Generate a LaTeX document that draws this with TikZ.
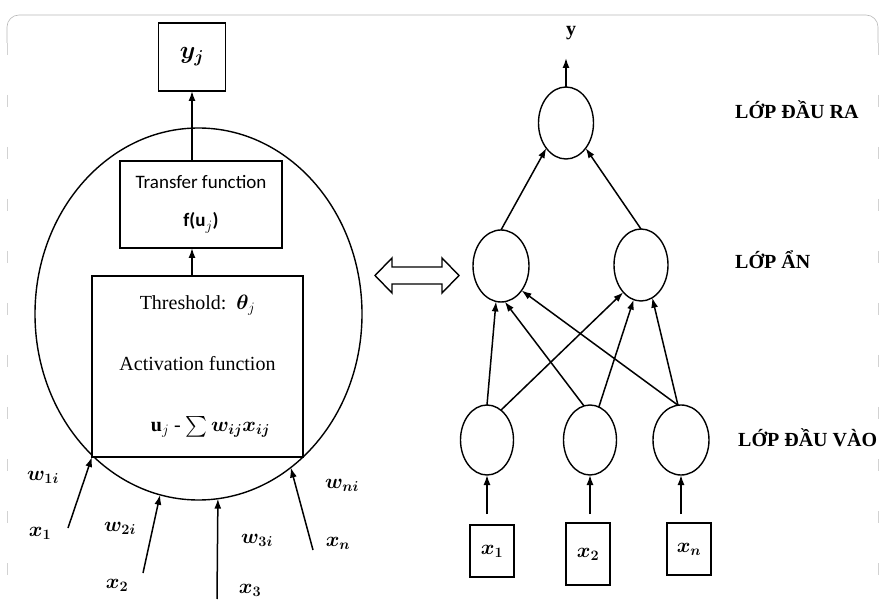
\documentclass[tikz,border=0pt]{standalone}
\usepackage{amsmath,bm}
\usepackage{fontspec}
\setmainfont{Liberation Serif}
\newfontfamily\calibri{Carlito}
\usetikzlibrary{shapes,arrows.meta,positioning,calc}

\begin{document}
\begin{tikzpicture}[
    x=1pt, y=1pt,
    every node/.style={font=\fontsize{20}{24}\selectfont},
    box/.style={rectangle, draw, line width=1.5pt, fill=white, inner sep=0pt, outer sep=0pt},
    neuron/.style={ellipse, draw, line width=1.4pt, minimum width=54pt, minimum height=72pt, inner sep=0pt, outer sep=0pt},
    arrow/.style={-{Latex[length=10pt,width=7pt]}, line width=1.5pt},
    layer/.style={anchor=west, inner sep=0pt, font=\fontsize{20}{24}\selectfont\bfseries},
    frame/.style={draw=gray!55, line width=0.6pt}
]
\useasboundingbox (0,0) rectangle (881,603);

% Frame
\draw[frame, rounded corners=12pt] (7,560) -- (7,588) -- (878,588) -- (878,560);
\draw[frame, draw=gray!35, dash pattern=on 12pt off 40pt] (7,560) -- (7,0) (878,560) -- (878,0);

% Single neuron (left)
\node[ellipse, draw, line width=1.4pt, minimum width=327pt, minimum height=372pt, inner sep=0pt, outer sep=0pt] (cell) at (198.5,289) {};
\node[box, minimum width=211pt, minimum height=181pt, align=center, font=\fontsize{20}{61}\selectfont] (act) at (197.5,236.5)
    {Threshold:\ \ $\boldsymbol{\theta}_j$\\ Activation function\\ \hspace*{26pt}$\mathbf{u}_j$ - $\sum\boldsymbol{w_{ij}x_{ij}}$};
\node[box, minimum width=162pt, minimum height=87pt, align=center, font=\calibri\fontsize{19}{38}\selectfont] (transfer) at (201,398.5)
    {Transfer function\\ \textbf{f(u}$_{j}$\textbf{)}};
\node[box, minimum width=67pt, minimum height=68pt, font=\fontsize{23}{26}\selectfont] (yj) at (192,546) {$\boldsymbol{y_j}$};

\draw[arrow] (transfer.north -| yj) -- (yj.south);
\draw[arrow] (act.north -| yj) -- (transfer.south -| yj);

% Inputs and weights
\coordinate (t1) at (68,75);
\coordinate (t2) at (143,30);
\coordinate (t3) at (217,4);
\coordinate (tn) at (313,53);
\draw[arrow] (t1) -- (act.south west);
\draw[arrow] (t2) -- (cell.258);
\draw[arrow] (t3) -- (cell.276);
\draw[arrow] (tn) -- (cell.301);

\node (w1) at (43,126) {$\boldsymbol{w_{1i}}$};
\node (x1) at (40,70) {$\boldsymbol{x_1}$};
\node (w2) at (120,75) {$\boldsymbol{w_{2i}}$};
\node (x2) at (117,18) {$\boldsymbol{x_2}$};
\node (w3) at (257,63) {$\boldsymbol{w_{3i}}$};
\node (x3) at (250,13) {$\boldsymbol{x_3}$};
\node (wn) at (342,118) {$\boldsymbol{w_{ni}}$};
\node (xn) at (338,60) {$\boldsymbol{x_n}$};

% Equivalence arrow
\draw[line width=1.4pt, fill=white] (375,327.5) -- (392,345) -- (392,336) -- (442,336) -- (442,345)
    -- (459,327.5) -- (442,310) -- (442,319) -- (392,319) -- (392,310) -- cycle;

% Network (right)
\node[neuron, minimum width=55pt] (out) at (566,480) {};
\node[neuron, minimum width=56pt] (h1) at (501,337) {};
\node[neuron] (h2) at (641,338) {};
\node[neuron, minimum width=53pt, minimum height=70pt] (in1) at (487,163) {};
\node[neuron, minimum width=53pt, minimum height=70pt] (in2) at (590,163) {};
\node[neuron, minimum width=56pt, minimum height=70pt] (in3) at (681,163) {};

\node[box, minimum width=44pt, minimum height=52pt] (b1) at (492,52) {$\boldsymbol{x_1}$};
\node[box, minimum width=44pt, minimum height=62pt] (b2) at (588,49) {$\boldsymbol{x_2}$};
\node[box, minimum width=44pt, minimum height=52pt] (b3) at (689,54) {$\boldsymbol{x_n}$};

\node (yout) at (571,570) {\textbf{y}};
\coordinate (ytip) at (566,545);

% Layer names
\node[layer] (lout) at (735,493) {LỚP ĐẦU RA};
\node[layer] (lhid) at (735,343) {LỚP ẨN};
\node[layer] (lin) at (738,165) {LỚP ĐẦU VÀO};

% Connections
\foreach \n in {in1,in2,in3}
    \draw[arrow] ([yshift=-39pt]\n.south) -- (\n.south);
\draw[arrow] (in1.north) -- (h1.262);
\draw[arrow] (in1.65) -- (h2.237);
\draw[arrow] (in2.100) -- (h1.276);
\draw[arrow] (in2.75) -- (h2.258);
\draw[arrow] (in3.95) -- (h1.310);
\draw[arrow] (in3.95) -- (h2.289);
\draw[arrow] (h1.north) -- (out.232);
\draw[arrow] (h2.north) -- (out.308);
\draw[arrow] (out.north) -- (ytip);

\end{tikzpicture}
\end{document}
